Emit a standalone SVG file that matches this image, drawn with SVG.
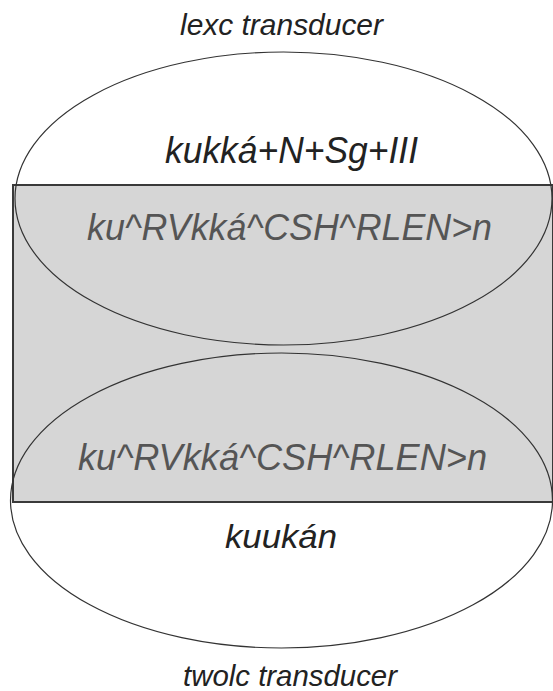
<svg xmlns="http://www.w3.org/2000/svg" width="553" height="691" viewBox="0 0 553 691">
<style>
.t{font-family:"Liberation Sans",Arial,sans-serif;font-style:italic;fill:#222}
.g{fill:#555}
.ell{fill:none;stroke:#333;stroke-width:1.2}
</style>
<rect width="553" height="691" fill="#fff"/>
<g id="shared">
<rect x="13" y="185" width="540" height="317" fill="#d6d6d6" stroke="#3a3a3a" stroke-width="2"/>
</g>
<g id="lexc">
<ellipse class="ell" cx="283.5" cy="198.5" rx="268.5" ry="146.5"/>
<text class="t" x="180" y="35" font-size="30" textLength="203" lengthAdjust="spacingAndGlyphs">lexc transducer</text>
<text class="t" x="165" y="163" font-size="36" textLength="253" lengthAdjust="spacingAndGlyphs">kukká+N+Sg+III</text>
<text class="t g" x="87" y="240" font-size="36" textLength="405" lengthAdjust="spacingAndGlyphs">ku^RVkká^CSH^RLEN&gt;n</text>
</g>
<g id="twolc">
<ellipse class="ell" cx="281.5" cy="500.5" rx="271" ry="147.5"/>
<text class="t g" x="78" y="470" font-size="36" textLength="409" lengthAdjust="spacingAndGlyphs">ku^RVkká^CSH^RLEN&gt;n</text>
<text class="t" x="225" y="548" font-size="34" textLength="112" lengthAdjust="spacingAndGlyphs">kuukán</text>
<text class="t" x="183" y="686" font-size="30" textLength="214" lengthAdjust="spacingAndGlyphs">twolc transducer</text>
</g>
<g id="connectors"/>
</svg>
